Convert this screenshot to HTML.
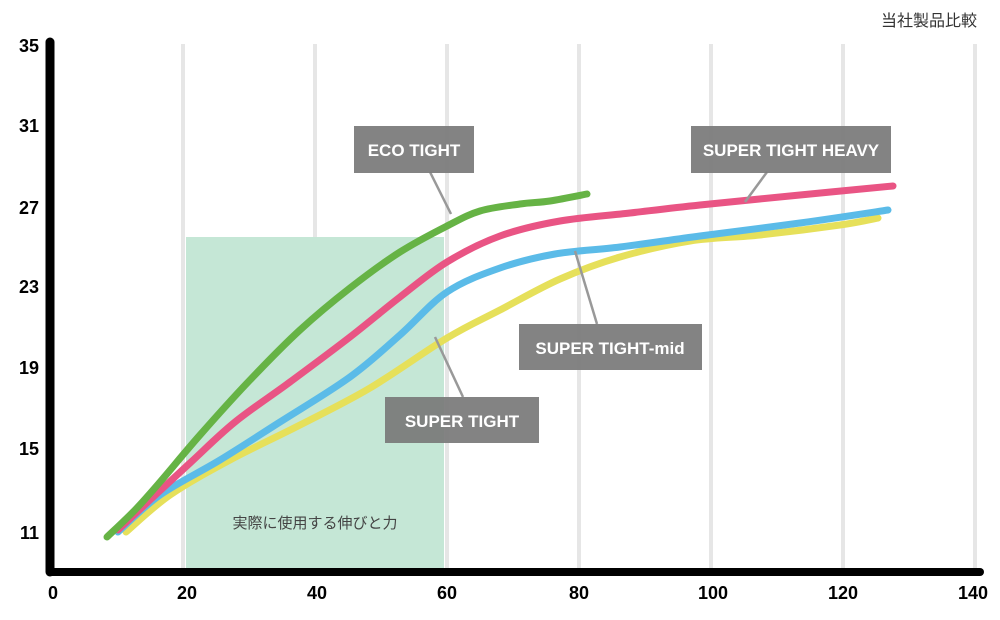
<!DOCTYPE html>
<html><head><meta charset="utf-8"><style>
html,body{margin:0;padding:0;background:#fff;}
svg{display:block;}
</style></head><body>
<svg width="1000" height="620" viewBox="0 0 1000 620" xmlns="http://www.w3.org/2000/svg">
<g stroke="#e6e6e6" stroke-width="4">
<line x1="183" y1="44" x2="183" y2="568"/><line x1="315" y1="44" x2="315" y2="568"/><line x1="447" y1="44" x2="447" y2="568"/><line x1="579" y1="44" x2="579" y2="568"/><line x1="711" y1="44" x2="711" y2="568"/><line x1="843" y1="44" x2="843" y2="568"/><line x1="975" y1="44" x2="975" y2="568"/>
</g>
<rect x="186" y="237" width="258" height="331" fill="#c5e7d6"/>
<g id="curves" fill="none" stroke-width="7" stroke-linecap="round" stroke-linejoin="round">
<polyline stroke="#e6e05a" points="126,532 170,495 230,460 300,425 370,388 447,338 500,310 560,279 620,257 690,241 760,235 840,225 878,218"/>
<polyline stroke="#5bbbe8" points="118,532 160,495 220,460 280,422 350,377 400,335 447,292 500,268 555,254 620,247 700,236 800,223 888,210"/>
<polyline stroke="#e95484" points="118,530 150,500 190,463 235,422 290,382 350,337 400,297 447,262 500,236 560,221 630,213 700,205 800,195 893,186"/>
<polyline stroke="#66b345" points="107,537 135,510 160,482 200,435 250,380 300,330 350,288 400,252 447,226 480,211 520,204 550,201 587,194"/>
</g>
<g stroke="#999" stroke-width="2.5">
<line x1="430" y1="172" x2="451" y2="214"/>
<line x1="435" y1="337" x2="463" y2="397"/>
<line x1="767" y1="172" x2="745" y2="202"/>
<line x1="575" y1="251" x2="597" y2="324"/>
</g>
<g fill="#7a7a7a" fill-opacity="0.93">
<rect x="354" y="126" width="120" height="47"/>
<rect x="385" y="397" width="154" height="46"/>
<rect x="691" y="126" width="200" height="47"/>
<rect x="519" y="324" width="183" height="46"/>
</g>
<g fill="#fff" font-family="Liberation Sans, sans-serif" font-weight="bold" font-size="17" text-anchor="middle">
<text x="414" y="156">ECO TIGHT</text>
<text x="462" y="427">SUPER TIGHT</text>
<text x="791" y="156">SUPER TIGHT HEAVY</text>
<text x="610" y="354">SUPER TIGHT-mid</text>
</g>
<line x1="50" y1="42" x2="50" y2="572" stroke="#000" stroke-width="9" stroke-linecap="round"/>
<line x1="50" y1="572" x2="980" y2="572" stroke="#000" stroke-width="8" stroke-linecap="round"/>
<g font-family="Liberation Sans, sans-serif" font-weight="bold" font-size="18" fill="#000" text-anchor="end">
<text x="39" y="52">35</text><text x="39" y="132">31</text><text x="39" y="214">27</text><text x="39" y="293">23</text><text x="39" y="374">19</text><text x="39" y="455">15</text><text x="39" y="539">11</text>
</g>
<g font-family="Liberation Sans, sans-serif" font-weight="bold" font-size="18" fill="#000" text-anchor="middle">
<text x="53" y="599">0</text><text x="187" y="599">20</text><text x="317" y="599">40</text><text x="447" y="599">60</text><text x="579" y="599">80</text><text x="713" y="599">100</text><text x="843" y="599">120</text><text x="973" y="599">140</text>
</g>
<text x="977" y="26" text-anchor="end" font-family="Liberation Sans, Noto Sans CJK JP, sans-serif" font-size="16" fill="#333">当社製品比較</text>
<text x="315" y="528" text-anchor="middle" font-family="Liberation Sans, Noto Sans CJK JP, sans-serif" font-size="15" fill="#444">実際に使用する伸びと力</text>
</svg>
<script>
(function(){
var NS="http://www.w3.org/2000/svg";
var pls=document.querySelectorAll('#curves polyline');
for(var i=0;i<pls.length;i++){
 var pl=pls[i];
 var pts=pl.getAttribute('points').trim().split(/\s+/).map(function(s){var a=s.split(',');return [+a[0],+a[1]];});
 var d='M'+pts[0][0]+','+pts[0][1];
 for(var j=0;j<pts.length-1;j++){
  var p0=pts[j>0?j-1:j],p1=pts[j],p2=pts[j+1],p3=pts[j+2<pts.length?j+2:j+1];
  var c1x=p1[0]+(p2[0]-p0[0])/6,c1y=p1[1]+(p2[1]-p0[1])/6;
  var c2x=p2[0]-(p3[0]-p1[0])/6,c2y=p2[1]-(p3[1]-p1[1])/6;
  d+=' C'+c1x.toFixed(1)+','+c1y.toFixed(1)+' '+c2x.toFixed(1)+','+c2y.toFixed(1)+' '+p2[0]+','+p2[1];
 }
 var p=document.createElementNS(NS,'path');
 p.setAttribute('d',d);p.setAttribute('stroke',pl.getAttribute('stroke'));
 pl.parentNode.replaceChild(p,pl);
}
})();
</script>
</body></html>
